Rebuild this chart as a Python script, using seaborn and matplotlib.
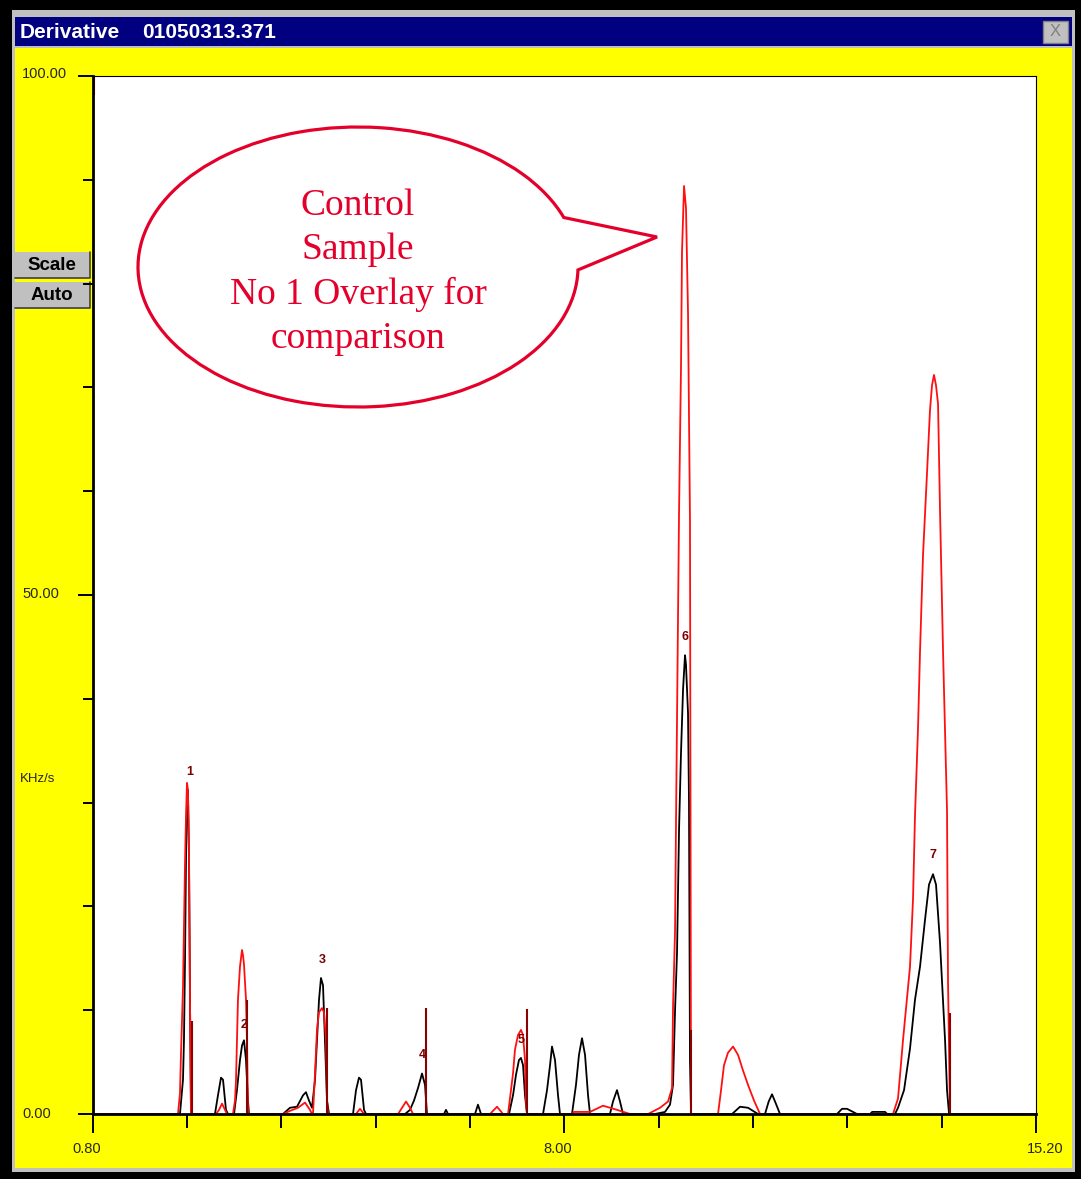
import numpy as np
import pandas as pd
import seaborn as sns
import matplotlib.pyplot as plt
from matplotlib.patches import Rectangle, PathPatch
from matplotlib.path import Path

# ---- data (time, KHz/s) ----
sample_time = [0.80,
               2.135, 2.181, 2.196, 2.212, 2.227, 2.242, 2.257, 2.273, 2.288, 2.303,
               2.669, 2.715, 2.761, 2.792, 2.837, 2.868,
               2.960, 3.005, 3.051, 3.082, 3.112, 3.143, 3.173, 3.188,
               3.707, 3.814, 3.921, 4.013, 4.058, 4.104, 4.150,
               4.196, 4.226, 4.257, 4.287, 4.318, 4.348, 4.379, 4.410,
               4.776, 4.822, 4.867, 4.898, 4.944, 4.974,
               5.570, 5.646, 5.707, 5.768, 5.829, 5.875, 5.905,
               6.165, 6.195, 6.226, 6.638, 6.683, 6.730,
               7.157, 7.218, 7.264, 7.309, 7.340, 7.371, 7.401, 7.432,
               7.676, 7.737, 7.783, 7.813, 7.859, 7.905, 7.935,
               8.118, 8.179, 8.225, 8.271, 8.317, 8.363, 8.393,
               8.698, 8.744, 8.805, 8.851, 8.897,
               9.385, 9.538, 9.614, 9.660, 9.691, 9.721, 9.752, 9.782, 9.813, 9.843,
               9.858, 9.874, 9.889, 9.904, 9.919, 9.935,
               10.561, 10.683, 10.805, 10.957,
               11.064, 11.120, 11.171, 11.230, 11.293,
               12.163, 12.240, 12.316, 12.468,
               12.667, 12.700, 12.896, 12.930,
               13.048, 13.094, 13.186, 13.277, 13.353, 13.430, 13.506, 13.567, 13.628,
               13.674, 13.735, 13.781, 13.812, 13.842, 13.873,
               15.20]
sample_rate = [0,
               0, 3.3, 7.1, 14.8, 24.5, 30.3, 31.2, 24.5, 11.0, 0,
               0, 1.8, 3.5, 3.3, 0.4, 0,
               0, 2.3, 5.2, 6.6, 7.1, 5.2, 1.3, 0,
               0, 0.6, 0.7, 1.8, 2.1, 1.3, 0.6,
               3.3, 7.1, 11.0, 13.1, 12.4, 7.1, 1.3, 0,
               0, 2.3, 3.5, 3.3, 0.4, 0,
               0, 0.4, 1.3, 2.5, 3.9, 2.8, 0,
               0, 0.4, 0, 0, 0.9, 0,
               0, 1.8, 3.8, 5.2, 5.4, 4.7, 1.8, 0,
               0, 2.3, 4.7, 6.5, 5.2, 1.8, 0,
               0, 2.8, 5.7, 7.3, 5.7, 1.8, 0,
               0, 1.2, 2.3, 1.2, 0,
               0, 0.2, 0.9, 2.8, 10.0, 15.5, 27.4, 34.8, 40.9, 44.2,
               43.3, 40.9, 38.6, 30.0, 5.2, 0,
               0, 0.7, 0.6, 0,
               0, 1.2, 1.9, 1.0, 0,
               0, 0.5, 0.5, 0,
               0, 0.2, 0.2, 0,
               0, 0.6, 2.3, 6.3, 11.0, 14.2, 18.7, 22.1, 23.1,
               22.1, 16.5, 11.0, 7.1, 2.3, 0,
               0]

control_time = [0.80,
                2.105, 2.135, 2.151, 2.181, 2.212, 2.227, 2.242, 2.257, 2.273, 2.288, 2.303,
                2.685, 2.731, 2.777, 2.822, 2.853,
                2.944, 2.975, 2.990, 3.005, 3.020, 3.051, 3.082, 3.097, 3.112, 3.143, 3.158, 3.173,
                3.707, 3.814, 3.936, 4.043, 4.119, 4.150,
                4.165, 4.196, 4.226, 4.257, 4.303, 4.333, 4.364, 4.379, 4.394,
                4.822, 4.883, 4.944,
                5.463, 5.524, 5.585, 5.646, 5.692,
                6.867, 6.974, 7.065,
                7.142, 7.187, 7.218, 7.248, 7.294, 7.340, 7.371, 7.401, 7.416, 7.432,
                8.118, 8.150, 8.393, 8.592, 8.805, 9.004,
                9.278, 9.462, 9.584, 9.645, 9.660, 9.691, 9.706, 9.752, 9.782, 9.797,
                9.828, 9.858, 9.889, 9.919, 9.935,
                10.347, 10.393, 10.438, 10.499, 10.576, 10.652, 10.728, 10.805, 10.896, 10.988,
                13.018, 13.094, 13.170, 13.277, 13.323, 13.353, 13.399, 13.430, 13.476, 13.537,
                13.582, 13.613, 13.643, 13.674, 13.705, 13.735, 13.781, 13.842, 13.857, 13.888,
                15.20]
control_rate = [0,
                0, 2.0, 5.9, 12.2, 24.2, 28.6, 31.9, 31.2, 25.4, 11.0, 0,
                0, 0.4, 1.0, 0.4, 0,
                0, 1.3, 3.3, 7.1, 11.0, 14.2, 15.8, 15.3, 14.4, 11.0, 7.1, 0,
                0, 0.3, 0.6, 1.1, 0.4, 0,
                0, 3.9, 8.1, 9.8, 10.2, 9.8, 7.1, 1.3, 0,
                0, 0.5, 0,
                0, 0.6, 1.2, 0.6, 0,
                0, 0.7, 0,
                0, 2.3, 3.9, 6.2, 7.6, 8.1, 7.6, 5.2, 1.3, 0,
                0, 0.2, 0.2, 0.8, 0.4, 0,
                0, 0.6, 1.2, 2.5, 10.3, 17.7, 28.3, 58.0, 72.0, 83.0,
                89.4, 87.3, 77.2, 57.2, 0,
                0, 2.3, 4.7, 5.9, 6.5, 5.7, 4.2, 2.8, 1.3, 0,
                0, 1.5, 7.1, 14.2, 20.7, 28.7, 37.1, 44.6, 53.9, 61.8,
                67.8, 70.2, 71.2, 70.2, 68.4, 58.2, 44.6, 29.2, 12.8, 0,
                0]

# integration end markers and peak numbers
marker_time = [2.318, 3.158, 4.379, 5.890, 7.432, 9.935, 13.888]
marker_top = [9.0, 11.0, 10.2, 10.2, 10.1, 8.1, 9.7]
peak_ids = ["1", "2", "3", "4", "5", "6", "7"]
peak_time = [2.288, 3.112, 4.303, 5.829, 7.340, 9.843, 13.628]
peak_rate = [32.9, 8.6, 14.8, 5.7, 7.1, 46.0, 25.0]

x_ticks = [0.80, 2.24, 3.68, 5.12, 6.56, 8.00, 9.44, 10.88, 12.32, 13.76, 15.20]
x_major = [0.80, 8.00, 15.20]
y_ticks = [0, 10, 20, 30, 40, 50, 60, 70, 80, 90, 100]
y_major = [0, 50, 100]

bubble_lines = ["Control", "Sample", "No 1 Overlay for", "comparison"]

W, H = 1081, 1179
sns.set_style("white")
plt.rcParams['font.family'] = ['Liberation Sans', 'DejaVu Sans']

fig = plt.figure(figsize=(W / 100, H / 100), dpi=100, facecolor='black')

# window chrome, drawn in pixel coordinates
bg = fig.add_axes([0, 0, 1, 1], zorder=0)
bg.set_xlim(0, W)
bg.set_ylim(H, 0)
bg.axis('off')
bg.add_patch(Rectangle((12, 10), 1063, 1162, fc='#c0c0c0', ec='none'))
bg.add_patch(Rectangle((15, 17), 1057, 29, fc='#000080', ec='none'))
bg.add_patch(Rectangle((15, 48), 1057, 1120, fc='#ffff00', ec='none'))
bg.text(20, 32, "Derivative", color='white', fontsize=15, fontweight='bold', va='center')
bg.text(142, 32, "01050313.371", color='white', fontsize=15, fontweight='bold', va='center')
bg.add_patch(Rectangle((1043, 21), 25, 22, fc='#c0c0c0', ec='#808080', lw=1))
bg.text(1055.5, 32, "X", color='#808080', fontsize=12, ha='center', va='center')
for y0, lab in [(252, "Scale"), (282, "Auto")]:
    bg.add_patch(Rectangle((15, y0), 75, 26, fc='#c0c0c0', ec='none'))
    bg.plot([15, 90, 90], [y0 + 26, y0 + 26, y0], color='#404040', lw=1.2)
    bg.text(52, y0 + 13, lab, color='black', fontsize=13.5, fontweight='bold',
            ha='center', va='center')

# axis labels in the window style
bg.text(22, 74, "100.00", fontsize=10.5, va='center')
bg.text(22, 594, "50.00", fontsize=10.5, va='center')
bg.text(22, 1114, "0.00", fontsize=10.5, va='center')
bg.text(20, 779, "KHz/s", fontsize=9.5, va='center')
for xc, lab in [(87, "0.80"), (558, "8.00"), (1045, "15.20")]:
    bg.text(xc, 1149, lab, fontsize=10.5, ha='center', va='center')

# the chart itself
left, right, top, bottom = 92.5, 1036, 76, 1114
ax = fig.add_axes([left / W, (H - bottom) / H, (right - left) / W, (bottom - top) / H], zorder=1)
ax.set_facecolor('white')

df = pd.concat([
    pd.DataFrame({'time': sample_time, 'rate': sample_rate, 'trace': 'Sample'}),
    pd.DataFrame({'time': control_time, 'rate': control_rate, 'trace': 'Control'}),
])
sns.lineplot(data=df, x='time', y='rate', hue='trace', hue_order=['Sample', 'Control'],
             palette={'Sample': 'black', 'Control': '#ff1010'}, sort=False,
             estimator=None, legend=False, linewidth=1.3, ax=ax)

ax.vlines(marker_time, 0, marker_top, color='#8b0000', lw=1.5)
ax.vlines([0.82], 98.2, 100, color='#ff1010', lw=1.5)
for lab, t, r in zip(peak_ids, peak_time, peak_rate):
    ax.text(t, r, lab, color='#7a0000', fontsize=9, fontweight='bold', ha='center', va='center')

ax.set_xlim(0.80, 15.20)
ax.set_ylim(0, 100)
ax.set_xlabel('')
ax.set_ylabel('')
ax.set_xticks(x_ticks, minor=True)
ax.set_xticks(x_major)
ax.set_yticks(y_ticks, minor=True)
ax.set_yticks(y_major)
ax.set_xticklabels([])
ax.set_yticklabels([])
ax.tick_params(axis='x', which='major', direction='out', length=14, width=1.4, color='black', bottom=True)
ax.tick_params(axis='x', which='minor', direction='out', length=10, width=1.4, color='black', bottom=True)
ax.tick_params(axis='y', which='major', direction='out', length=11, width=1.4, color='black', left=True)
ax.tick_params(axis='y', which='minor', direction='out', length=7, width=1.4, color='black', left=True)
for side in ['left', 'bottom']:
    ax.spines[side].set_linewidth(2.0)
    ax.spines[side].set_color('black')
for side in ['top', 'right']:
    ax.spines[side].set_linewidth(0.8)
    ax.spines[side].set_color('black')

# speech bubble over the plot
fg = fig.add_axes([0, 0, 1, 1], zorder=2)
fg.set_xlim(0, W)
fg.set_ylim(H, 0)
fg.axis('off')
fg.patch.set_alpha(0)
cx, cy, a, b = 358, 267, 220, 140
arc = Path.arc(1.2, 339.3)
verts = [(cx + a * vx, cy + b * vy) for vx, vy in arc.vertices]
codes = list(arc.codes)
verts += [(657, 237), (0, 0)]
codes += [Path.LINETO, Path.CLOSEPOLY]
fg.add_patch(PathPatch(Path(verts, codes), fc='white', ec='#e4002b', lw=2.3))
for yb, line in zip([215, 259, 304, 348], bubble_lines):
    fg.text(358, yb, line, color='#e4002b', fontsize=27, family='Liberation Serif',
            ha='center', va='baseline')

fig.savefig('out.png', dpi=100, facecolor='black')
